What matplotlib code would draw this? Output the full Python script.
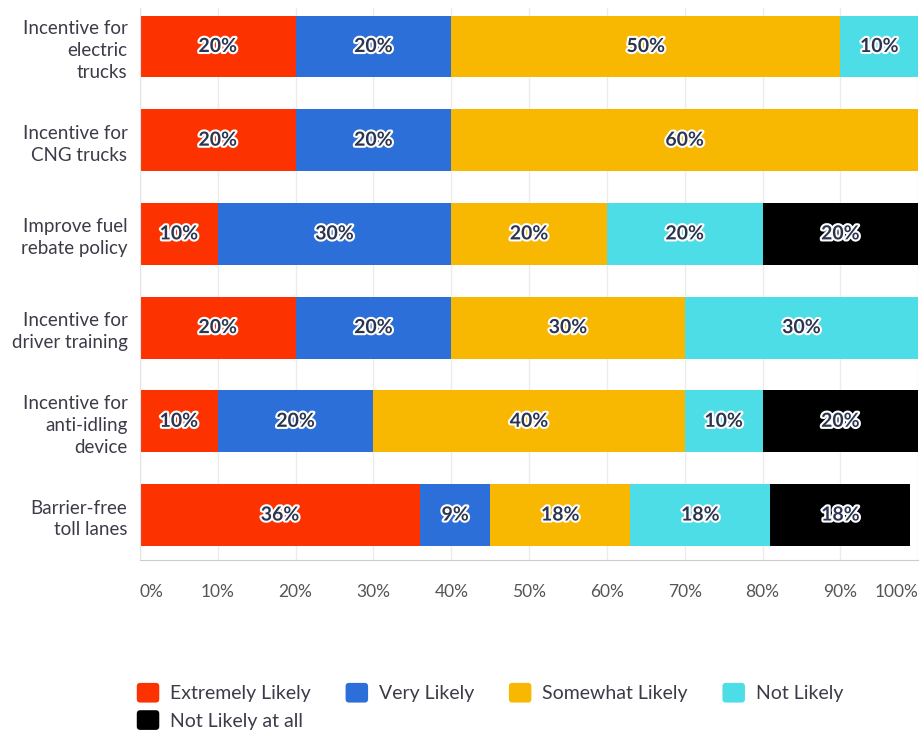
import numpy as np
import matplotlib
matplotlib.use("Agg")
import matplotlib.pyplot as plt
import matplotlib.patheffects as pe
from matplotlib.patches import Patch, FancyBboxPatch
from matplotlib.legend_handler import HandlerPatch

plt.rcParams['font.family'] = ['Lato', 'DejaVu Sans']

questions = ["Incentive for\nelectric\ntrucks",
             "Incentive for\nCNG trucks",
             "Improve fuel\nrebate policy",
             "Incentive for\ndriver training",
             "Incentive for\nanti-idling\ndevice",
             "Barrier-free\ntoll lanes"]
answers = ["Extremely Likely", "Very Likely", "Somewhat Likely",
           "Not Likely", "Not Likely at all"]
extremely = [20, 20, 10, 20, 10, 36]
very = [20, 20, 30, 20, 20, 9]
somewhat = [50, 60, 20, 30, 40, 18]
not_likely = [10, 0, 20, 30, 10, 18]
not_at_all = [0, 0, 20, 0, 20, 18]
ticks = [0, 10, 20, 30, 40, 50, 60, 70, 80, 90, 100]

colors = ["#fc3300", "#2d6fd9", "#f8b700", "#4ddde6", "#000000"]
series = [extremely, very, somewhat, not_likely, not_at_all]

fig = plt.figure(figsize=(9.21, 7.33), dpi=100)
ax = fig.add_axes([0.152, 0.236, 0.845, 0.753])

y = np.arange(len(questions))
left = np.zeros(len(questions))
outline = [pe.withStroke(linewidth=3, foreground="white")]
for vals, col in zip(series, colors):
    vals = np.array(vals, dtype=float)
    ax.barh(y, vals, left=left, height=0.66, color=col, zorder=2)
    for yi, (l, v) in enumerate(zip(left, vals)):
        if v > 0:
            ax.text(l + v / 2, yi, f"{v:.0f}%", ha="center", va="center",
                    fontsize=14, fontweight="bold", color="#2b3550",
                    path_effects=outline, zorder=3)
    left += vals

ax.set_xlim(0, 100)
ax.set_ylim(5.48, -0.41)
ax.set_yticks(y)
ax.set_yticklabels(questions, fontsize=13.5, color="#3c3c48", linespacing=1.35)
ax.set_xticks(ticks)
ax.set_xticklabels([f"{t}%" for t in ticks], fontsize=12.5, color="#555555")
labels = ax.get_xticklabels()
labels[0].set_ha("left")
labels[-1].set_ha("right")
ax.tick_params(axis="both", length=0)
ax.tick_params(axis="x", pad=17)
ax.tick_params(axis="y", pad=9)
ax.grid(axis="x", color="#ececec", linewidth=1, zorder=0)
for s in ["top", "right"]:
    ax.spines[s].set_visible(False)
ax.spines["left"].set_color("#e4e4e4")
ax.spines["bottom"].set_color("#cccccc")


class RoundBox(HandlerPatch):
    def create_artists(self, legend, orig_handle, xdescent, ydescent,
                       width, height, fontsize, trans):
        p = FancyBboxPatch((-xdescent + 1, -ydescent + 1), width - 2, height - 2,
                           boxstyle="round,pad=0,rounding_size=2.5",
                           facecolor=orig_handle.get_facecolor(),
                           edgecolor="none", transform=trans)
        return [p]


handles = [Patch(facecolor=c, label=a) for a, c in zip(answers, colors)]
# column-major fill: put the fifth entry under the first
order = [0, 4, 1, 2, 3]
fig.legend([handles[i] for i in order], [answers[i] for i in order],
           ncol=4, loc="upper left", bbox_to_anchor=(0.128, 1 - 664 / 733),
           bbox_transform=fig.transFigure, frameon=False, fontsize=14,
           handlelength=1.3, handleheight=1.4, handletextpad=0.5,
           columnspacing=1.7, labelspacing=0.25, labelcolor="#3c3c48",
           handler_map={Patch: RoundBox()})

fig.savefig("out.png", dpi=100)
